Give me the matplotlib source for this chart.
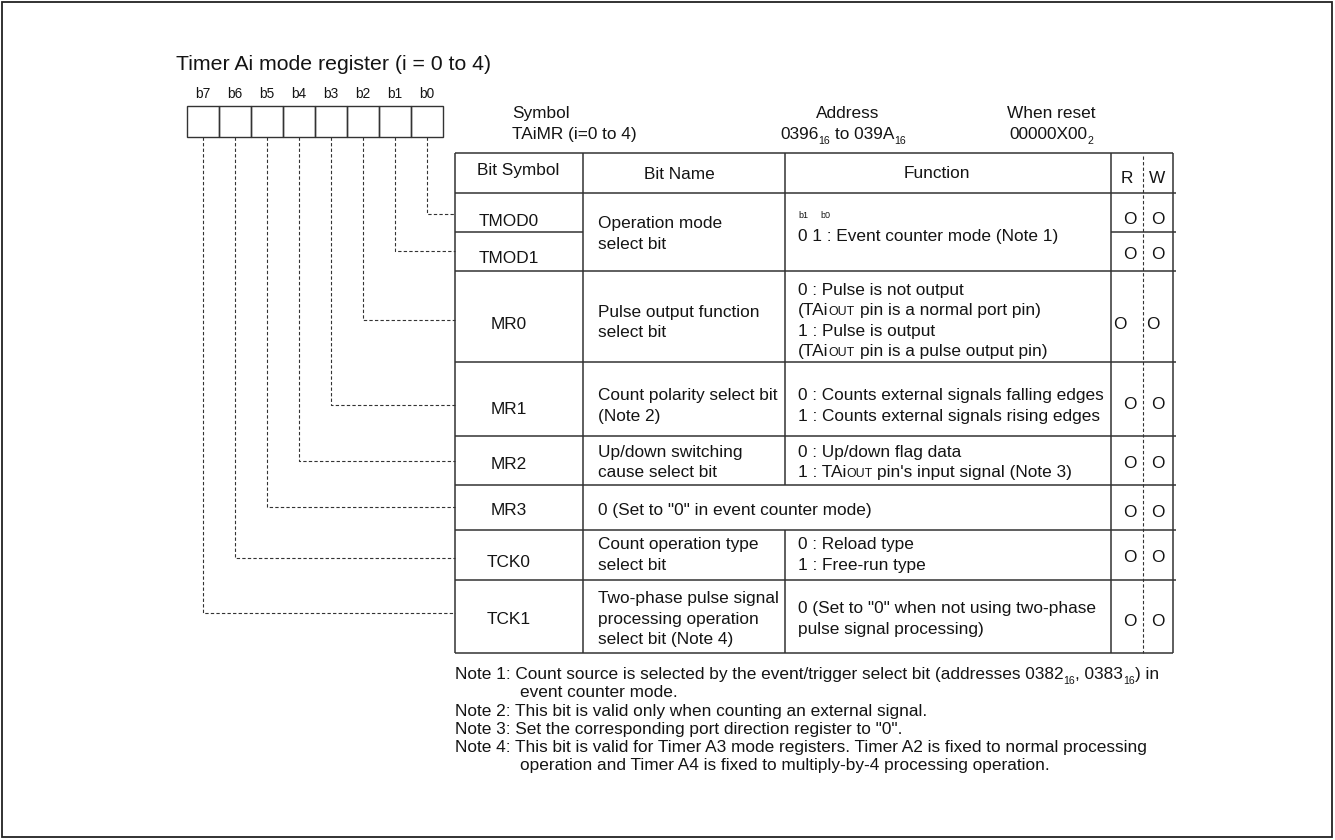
import re
import matplotlib
matplotlib.use("Agg")
import matplotlib.pyplot as plt
from matplotlib.patches import Rectangle
from matplotlib.font_manager import FontProperties

FAMILY = ["Liberation Sans", "DejaVu Sans"]
plt.rcParams["font.family"] = FAMILY

# ---------------- content ----------------
title = "Timer Ai mode register (i = 0 to 4)"
bit_labels = ["b7", "b6", "b5", "b4", "b3", "b2", "b1", "b0"]
bit_symbols = ["TMOD0", "TMOD1", "MR0", "MR1", "MR2", "MR3", "TCK0", "TCK1"]  # b0 -> b7
header = ["Bit Symbol", "Bit Name", "Function"]
rw_header = ["R", "W"]
symbol_info = ["Symbol", "TAiMR (i=0 to 4)"]
address_info = ["Address", "0396{sub:16} to 039A{sub:16}"]
reset_info = ["When reset", "00000X00{sub:2}"]

# one entry per table row (TMOD0 / TMOD1 share one row)
bit_names = [
    ["Operation mode", "select bit"],
    ["Pulse output function", "select bit"],
    ["Count polarity select bit", "(Note 2)"],
    ["Up/down switching", "cause select bit"],
    None,
    ["Count operation type", "select bit"],
    ["Two-phase pulse signal", "processing operation", "select bit (Note 4)"],
]
functions = [
    ["0 1 : Event counter mode (Note 1)"],
    ["0 : Pulse is not output", "(TAi{sc:OUT} pin is a normal port pin)",
     "1 : Pulse is output", "(TAi{sc:OUT} pin is a pulse output pin)"],
    ["0 : Counts external signals falling edges", "1 : Counts external signals rising edges"],
    ["0 : Up/down flag data", "1 : TAi{sc:OUT} pin's input signal (Note 3)"],
    ['0 (Set to "0" in event counter mode)'],
    ["0 : Reload type", "1 : Free-run type"],
    ['0 (Set to "0" when not using two-phase', "pulse signal processing)"],
]
read_write = [("O", "O")] * 8  # b0 -> b7
notes = [
    ["Note 1: Count source is selected by the event/trigger select bit (addresses 0382{sub:16}, 0383{sub:16}) in",
     "event counter mode."],
    ["Note 2: This bit is valid only when counting an external signal."],
    ['Note 3: Set the corresponding port direction register to "0".'],
    ["Note 4: This bit is valid for Timer A3 mode registers. Timer A2 is fixed to normal processing",
     "operation and Timer A4 is fixed to multiply-by-4 processing operation."],
]

# ---------------- layout (image pixels) ----------------
FS = 12.4
INK = "#141414"
LINE = "#333333"
PITCH = 20.5
BOX_X0, BOX_W, BOX_TOP, BOX_BOT = 186.5, 32, 105.7, 136.7
TX = [455, 583, 784.5, 1111, 1173]
RW_MID = 1142.5
ROW_Y = [153, 193, 271, 362, 436, 485, 530, 580, 653]
TMOD_SPLIT = 232
leader_y = [214, 251, 320, 405, 461, 507, 558, 613]
symbol_y = [220, 256.5, 323, 408, 463, 509, 561, 618]
name_y0 = [222, 310.5, 394, 450.5, None, 543, 597]
func_y0 = [235, 288.5, 394, 450.5, 509, 543, 607]
rw_y = [218, 253, 323, 403, 461.5, 510.5, 556, 620]

fig = plt.figure(figsize=(13.35, 8.4), dpi=100)
ax = fig.add_axes([0, 0, 1, 1])
ax.set_xlim(0, 1335)
ax.set_ylim(840, 0)
ax.axis("off")
renderer = fig.canvas.get_renderer()

TOKEN = re.compile(r"\{(sc|sub):([^}]*)\}")


def adv(txt, fs):
    fp = FontProperties(family=FAMILY, size=fs)
    w1 = renderer.get_text_width_height_descent("|" + txt + "|", fp, False)[0]
    w0 = renderer.get_text_width_height_descent("||", fp, False)[0]
    return w1 - w0


def rich(x, y, s, size=FS, ha="left"):
    parts, pos = [], 0
    for m in TOKEN.finditer(s):
        if m.start() > pos:
            parts.append(("n", s[pos:m.start()]))
        parts.append((m.group(1), m.group(2)))
        pos = m.end()
    if pos < len(s):
        parts.append(("n", s[pos:]))
    px = size * 100 / 72
    base = y + 0.36 * px
    cur, made = x, []
    for kind, txt in parts:
        fs, dy = size, 0
        if kind == "sc":
            fs = size * 0.72
        elif kind == "sub":
            fs, dy = size * 0.62, 0.3 * px
        lead = len(txt) - len(txt.lstrip(" "))
        t = ax.text(cur + adv(" " * lead, fs) if lead else cur, base + dy, txt.lstrip(" "),
                    fontsize=fs, ha="left", va="baseline", color=INK)
        made.append(t)
        cur += adv(txt, fs)
    if ha == "center":
        shift = (cur - x) / 2
        for t in made:
            t.set_x(t.get_position()[0] - shift)


def hline(y, x0, x1, **kw):
    ax.plot([x0, x1], [y, y], color=LINE, lw=1.1, solid_capstyle="butt", **kw)


def vline(x, y0, y1, **kw):
    ax.plot([x, x], [y0, y1], color=LINE, lw=1.1, solid_capstyle="butt", **kw)


# outer frame
ax.add_patch(Rectangle((2, 2), 1330, 835, fill=False, lw=1.3, ec="#222222"))

# title
rich(176, 62, title, size=15.3)

# register boxes and bit labels
for i, lab in enumerate(bit_labels):
    ax.add_patch(Rectangle((BOX_X0 + BOX_W * i, BOX_TOP), BOX_W, BOX_BOT - BOX_TOP,
                           fill=False, lw=1.0, ec=LINE))
    rich(BOX_X0 + BOX_W * i + BOX_W / 2, 93, lab, size=9.8, ha="center")

# leader lines
for k in range(8):
    cx = BOX_X0 + BOX_W * (7 - k) + BOX_W / 2
    ax.plot([cx, cx, TX[0]], [BOX_BOT, leader_y[k], leader_y[k]],
            color=LINE, lw=0.8, ls=(0, (3, 2)))

# symbol / address / reset
rich(512, 112, symbol_info[0])
rich(512, 133, symbol_info[1])
rich(848, 112, address_info[0], ha="center")
rich(843, 133, address_info[1], ha="center")
rich(1051, 112, reset_info[0], ha="center")
rich(1051, 133, reset_info[1], ha="center")

# table grid
hline(ROW_Y[0], TX[0], TX[4])
for y in ROW_Y[1:-1]:
    hline(y, TX[0], TX[4] + 3)
hline(ROW_Y[-1], TX[0], TX[4])
hline(TMOD_SPLIT, TX[0], TX[1])
hline(TMOD_SPLIT, TX[3], TX[4] + 3)
for x in (TX[0], TX[1], TX[3], TX[4]):
    vline(x, ROW_Y[0], ROW_Y[-1])
vline(TX[2], ROW_Y[0], ROW_Y[5])
vline(TX[2], ROW_Y[6], ROW_Y[-1])
ax.plot([RW_MID, RW_MID], [ROW_Y[0] + 3, ROW_Y[-1]], color=LINE, lw=0.8, ls=(0, (3, 2)))

# header
rich(518, 168.5, header[0], ha="center")
rich(679, 173, header[1], ha="center")
rich(937, 171.5, header[2], ha="center")
rich(1127, 177, rw_header[0], ha="center")
rich(1157, 177, rw_header[1], ha="center")

# bit symbols
for k, sym in enumerate(bit_symbols):
    rich(509, symbol_y[k], sym, ha="center")

# bit names and functions
for r, lines in enumerate(bit_names):
    if lines:
        for j, ln in enumerate(lines):
            rich(597.5, name_y0[r] + PITCH * j, ln)
for r, lines in enumerate(functions):
    fx = 597.5 if bit_names[r] is None else 798
    for j, ln in enumerate(lines):
        rich(fx, func_y0[r] + PITCH * j, ln)
rich(798, 215, "b1", size=6.5)
rich(820, 215, "b0", size=6.5)

# R / W marks
for k, (rd, wr) in enumerate(read_write):
    rx, wx = (1120, 1153) if k == 2 else (1130, 1158)
    rich(rx, rw_y[k], rd, ha="center")
    rich(wx, rw_y[k], wr, ha="center")

# notes
ny = 673
for note in notes:
    for j, ln in enumerate(note):
        rich(455 if j == 0 else 520, ny, ln)
        ny += 18.2

fig.savefig("out.png", dpi=100)
